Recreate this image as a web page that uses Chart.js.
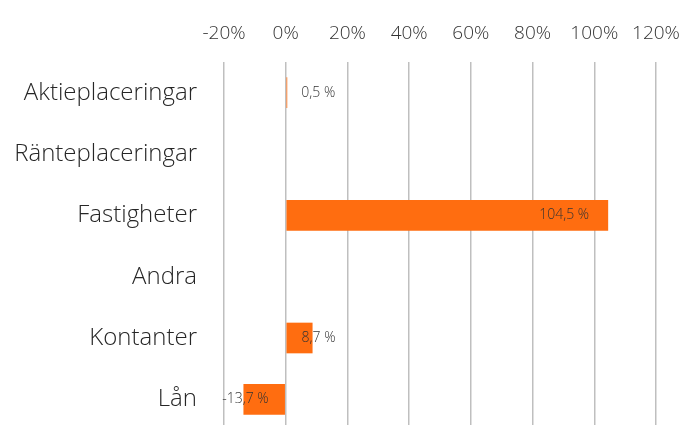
<!DOCTYPE html>
<html>
<head>
<meta charset="utf-8">
<script src="https://cdn.jsdelivr.net/npm/chart.js@4"></script>
<style>
  html, body { margin: 0; padding: 0; background: #fff; overflow: hidden; }
</style>
</head>
<body>
<canvas id="grafico" width="682" height="432"></canvas>
<script>
const kategorier = ["Aktieplaceringar", "Ränteplaceringar", "Fastigheter", "Andra", "Kontanter", "Lån"];
const andelar = [0.5, null, 104.5, null, 8.7, -13.7];
const etiketter = ["0,5 %", "", "104,5 %", "", "8,7 %", "-13,7 %"];
// horisontell förskjutning av etiketten från staplens ände (px)
const etikettFlytt = [31, 0, -44, 0, 6, 2];

const typsnitt = "'Open Sans', 'Segoe UI', sans-serif";

const etikettPlugin = {
  id: "etiketter",
  afterDatasetsDraw(chart) {
    const ctx = chart.ctx;
    const meta = chart.getDatasetMeta(0);
    ctx.save();
    ctx.font = "300 14px " + typsnitt;
    ctx.fillStyle = "#333333";
    ctx.textAlign = "center";
    ctx.textBaseline = "middle";
    meta.data.forEach((bar, i) => {
      if (!etiketter[i]) return;
      ctx.fillText(etiketter[i], bar.x + etikettFlytt[i], bar.y);
    });
    ctx.restore();
  }
};

new Chart(document.getElementById("grafico"), {
  type: "bar",
  data: {
    labels: kategorier,
    datasets: [{
      data: andelar,
      backgroundColor: "#ff6d10",
      barPercentage: 0.5,
      categoryPercentage: 1
    }]
  },
  options: {
    indexAxis: "y",
    responsive: false,
    animation: false,
    layout: { padding: { left: 0, right: 26, top: 0, bottom: 2 } },
    plugins: { legend: { display: false }, tooltip: { enabled: false } },
    scales: {
      x: {
        position: "top",
        min: -20,
        max: 120,
        afterFit: s => { s.height = 62; s.paddingLeft = 0; s.paddingRight = 0; },
        ticks: {
          stepSize: 20,
          padding: 17,
          color: "#333333",
          font: { family: typsnitt, size: 19, weight: 300 },
          callback: v => v + "%"
        },
        grid: { color: "#bfbfbf", lineWidth: 1.5, drawTicks: false },
        border: { display: false }
      },
      y: {
        afterFit: s => { s.width = 224; s.paddingTop = 0; s.paddingBottom = 0; },
        ticks: {
          padding: 19,
          color: "#262626",
          font: { family: typsnitt, size: 24, weight: 300 }
        },
        grid: { display: false },
        border: { display: false }
      }
    }
  },
  plugins: [etikettPlugin]
});
</script>
</body>
</html>
